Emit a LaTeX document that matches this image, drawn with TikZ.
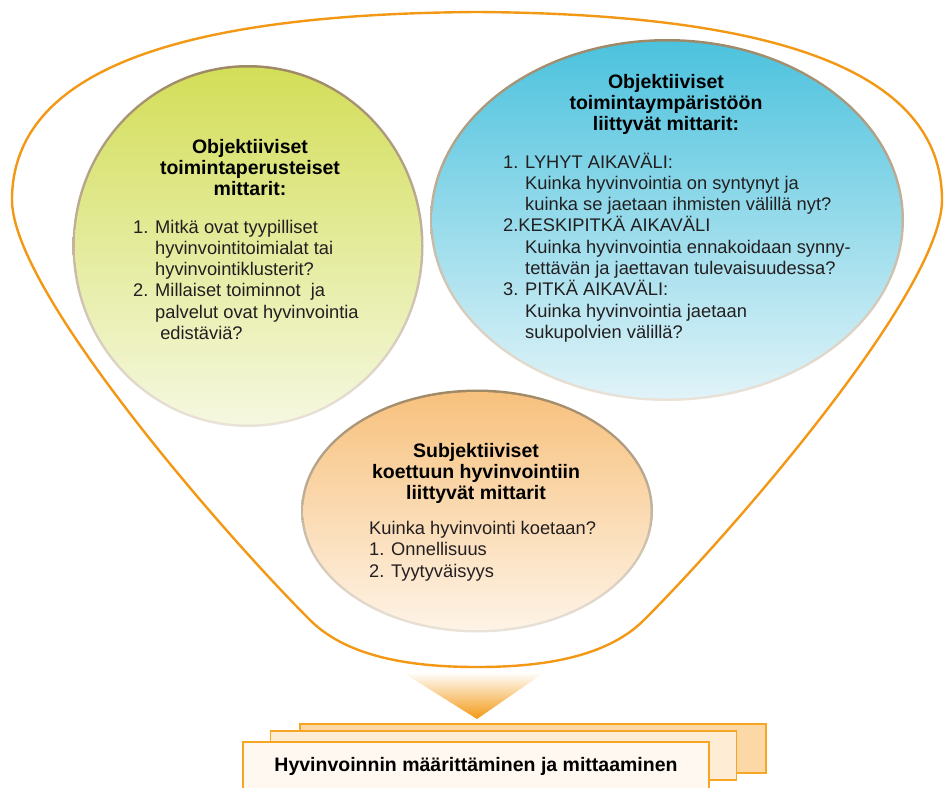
\documentclass[tikz,border=0pt]{standalone}
\usepackage{fontspec}
\setmainfont{Liberation Sans}
\usepackage{tikz}
\usetikzlibrary{shapes.geometric, positioning}
\definecolor{outl}{RGB}{243,152,20}
\definecolor{rimtop}{RGB}{158,136,102}
\definecolor{rimbot}{RGB}{234,227,217}
\definecolor{grtop}{RGB}{211,222,88}
\definecolor{grbot}{RGB}{245,248,224}
\definecolor{bltop}{RGB}{76,194,221}
\definecolor{blbot}{RGB}{224,243,248}
\definecolor{ortop}{RGB}{247,193,125}
\definecolor{orbot}{RGB}{254,243,230}
\definecolor{boxline}{RGB}{246,166,35}
\definecolor{boxa}{RGB}{252,216,166}
\definecolor{boxb}{RGB}{254,236,212}
\definecolor{boxc}{RGB}{255,248,240}
\definecolor{txt}{RGB}{35,31,32}
\newcommand{\hdfont}{\fontsize{19.5}{21.2}\selectfont\bfseries}
\newcommand{\bdfont}{\fontsize{18.3}{21.3}\selectfont}
\newcommand{\itm}[1]{\makebox[22pt][l]{#1}}
\newcommand{\indt}{\hspace*{22pt}}

\begin{document}
\begin{tikzpicture}[x=1pt, y=-1pt,
    bub/.style  ={ellipse, inner sep=0pt},
    rim/.style  ={bub, top color=rimtop, bottom color=rimbot},
    hd/.style   ={font=\hdfont, align=center, anchor=base, text=black, inner sep=0pt},
    bd/.style   ={font=\bdfont, align=left, anchor=base west, text=txt, inner sep=0pt},
    sheet/.style={draw=boxline, line width=1.3pt, minimum width=466pt, minimum height=49pt, inner sep=0pt}]
  \useasboundingbox (0,0) rectangle (947,787);
  % frame
  \draw[outl, line width=2.4pt] (477,12) .. controls (180,14) and (12,70) .. (12,200)
    .. controls (12,290) and (220,530) .. (310,620)
    .. controls (350,660) and (420,667) .. (477,667)
    .. controls (534,667) and (604,660) .. (644,620)
    .. controls (734,530) and (942,290) .. (942,200)
    .. controls (942,70) and (774,14) .. (477,12) -- cycle;
  % bubbles
  \node[rim, minimum width=351pt, minimum height=362pt] (grrim) at (248,246) {};
  \node[bub, minimum width=346pt, minimum height=357pt, top color=grtop, bottom color=grbot] (green) at (grrim.center) {};
  \node[rim, minimum width=474pt, minimum height=362pt] (blrim) at (667,220) {};
  \node[bub, minimum width=469pt, minimum height=357pt, top color=bltop, bottom color=blbot] (blue) at (blrim.center) {};
  \node[rim, minimum width=352pt, minimum height=243pt] (orrim) at (477,511) {};
  \node[bub, minimum width=347pt, minimum height=238pt, top color=ortop, bottom color=orbot] (orange) at (orrim.center) {};
  % texts (base = last line)
  \node[hd] (grhead) at (250,195.4) {Objektiiviset\\toimintaperusteiset\\mittarit:};
  \node[bd] (grlist) at (133,339.5)
    {\itm{1.}Mitkä ovat tyypilliset\\\indt hyvinvointitoimialat tai\\\indt hyvinvointiklusterit?\\
     \itm{2.}Millaiset toiminnot\ \ ja\\\indt palvelut ovat hyvinvointia\\\indt\ edistäviä?};
  \node[hd] (blhead) at (666,130.4) {Objektiiviset\\toimintaympäristöön\\liittyvät mittarit:};
  \node[bd] (bllist) at (503,338.4)
    {\itm{1.}LYHYT AIKAVÄLI:\\\indt Kuinka hyvinvointia on syntynyt ja\\\indt kuinka se jaetaan ihmisten välillä nyt?\\
     2.KESKIPITKÄ AIKAVÄLI\\\indt Kuinka hyvinvointia ennakoidaan synny-\\\indt tettävän ja jaettavan tulevaisuudessa?\\
     \itm{3.}PITKÄ AIKAVÄLI:\\\indt Kuinka hyvinvointia jaetaan\\\indt sukupolvien välillä?};
  \node[hd] (orhead) at (476,499.4) {Subjektiiviset\\koettuun hyvinvointiin\\liittyvät mittarit};
  \node[bd] (orlist) at (369,577) {Kuinka hyvinvointi koetaan?\\1. Onnellisuus\\2. Tyytyväisyys};
  % arrow
  \shade[top color=white, bottom color=outl] (402,672) -- (545,672) -- (477,719) -- cycle;
  % sheets
  \node[sheet, fill=boxa] (back) at (533,748.5) {};
  \node[sheet, fill=boxb] (mid) at (503.5,755.5) {};
  \node[sheet, fill=boxc, font=\hdfont] (front) at (476,766.5) {Hyvinvoinnin määrittäminen ja mittaaminen};
\end{tikzpicture}
\end{document}
